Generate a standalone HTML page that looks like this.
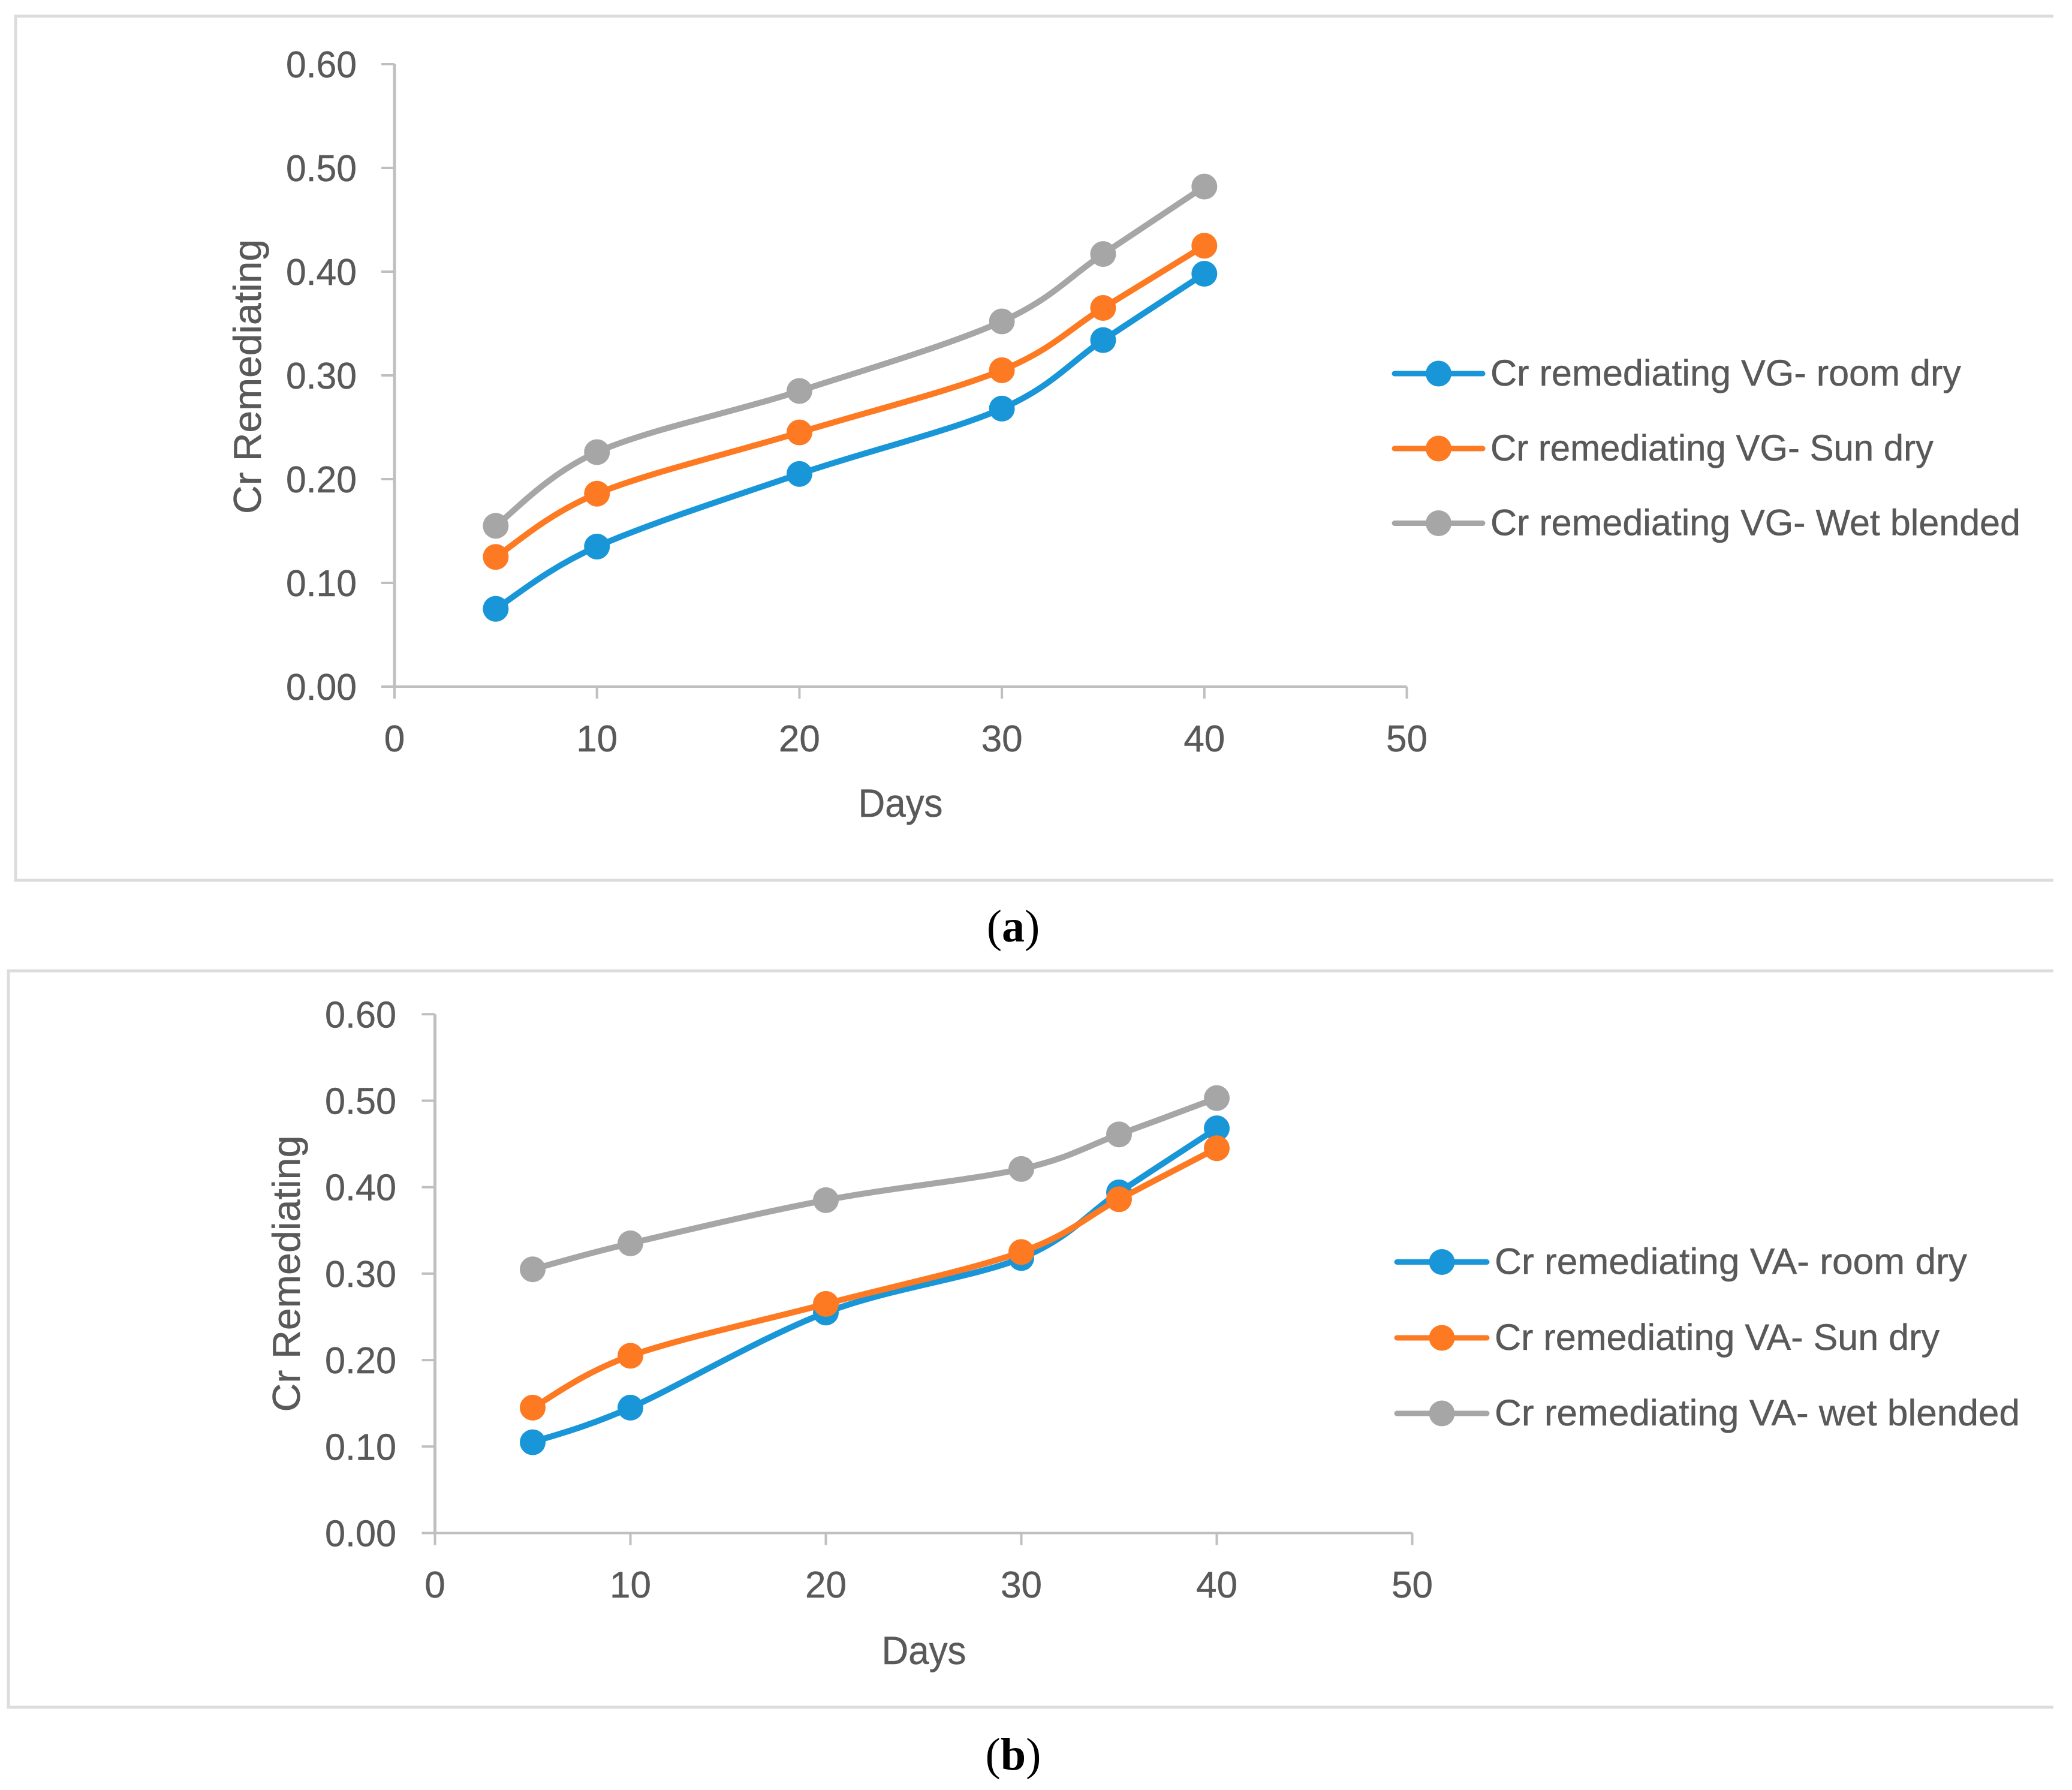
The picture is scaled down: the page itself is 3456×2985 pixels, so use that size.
<!DOCTYPE html>
<html lang="en">
<head>
<meta charset="utf-8">
<title>Cr Remediating charts</title>
<style>
html,body{margin:0;padding:0;background:#fff;width:3456px;height:2985px;overflow:hidden}
svg{display:block}
text{font-family:"Liberation Sans",sans-serif;fill:#595959;stroke:#595959;stroke-width:.5}
text.caption{font-family:"Liberation Serif",serif;fill:#000;stroke:none;font-size:76px}
</style>
</head>
<body>
<svg id="figure" xmlns="http://www.w3.org/2000/svg" width="3456" height="2985" viewBox="0 0 3456 2985">
  <polyline points="3425,27 26,27 26,1468 3425,1468" fill="none" stroke="#dcdcdc" stroke-width="5"/>
  <polyline points="3425,1619 14,1619 14,2847 3425,2847" fill="none" stroke="#dcdcdc" stroke-width="5"/>
  <text class="caption" x="1690" y="1570" text-anchor="middle">(<tspan font-weight="bold">a</tspan>)</text>
  <text class="caption" x="1690" y="2951" text-anchor="middle">(<tspan font-weight="bold">b</tspan>)</text>
</svg>
<script>
const days = [5, 10, 20, 30, 35, 40];
const xTickValues = [0, 10, 20, 30, 40, 50];
const yTickValues = [0, 0.1, 0.2, 0.3, 0.4, 0.5, 0.6];
const seriesColors = ['#1896d8', '#fd7a22', '#a6a6a6'];

const vgRoomDry = [0.075, 0.135, 0.205, 0.268, 0.334, 0.398];
const vgSunDry = [0.125, 0.186, 0.245, 0.305, 0.365, 0.425];
const vgWetBlended = [0.155, 0.226, 0.285, 0.352, 0.417, 0.482];
const vgNames = ['Cr remediating VG- room dry', 'Cr remediating VG- Sun dry', 'Cr remediating VG- Wet blended'];

const vaRoomDry = [0.105, 0.145, 0.255, 0.318, 0.394, 0.468];
const vaSunDry = [0.145, 0.205, 0.265, 0.325, 0.386, 0.445];
const vaWetBlended = [0.305, 0.335, 0.385, 0.421, 0.461, 0.503];
const vaNames = ['Cr remediating VA- room dry', 'Cr remediating VA- Sun dry', 'Cr remediating VA- wet blended'];

const NS = 'http://www.w3.org/2000/svg';
const root = document.getElementById('figure');

function mk(tag, attrs, parent, txt) {
  const el = document.createElementNS(NS, tag);
  for (const k in attrs) el.setAttribute(k, attrs[k]);
  if (txt !== undefined) el.textContent = txt;
  parent.appendChild(el);
  return el;
}

function smoothPath(pts) {
  let d = 'M' + pts[0][0] + ' ' + pts[0][1];
  for (let i = 0; i < pts.length - 1; i++) {
    const p0 = pts[Math.max(i - 1, 0)], p1 = pts[i], p2 = pts[i + 1], p3 = pts[Math.min(i + 2, pts.length - 1)];
    const c1x = p1[0] + (p2[0] - p0[0]) / 6, c1y = p1[1] + (p2[1] - p0[1]) / 6;
    const c2x = p2[0] - (p3[0] - p1[0]) / 6, c2y = p2[1] - (p3[1] - p1[1]) / 6;
    d += ' C' + c1x + ' ' + c1y + ' ' + c2x + ' ' + c2y + ' ' + p2[0] + ' ' + p2[1];
  }
  return d;
}

function drawChart(cfg) {
  const g = mk('g', {}, root);
  
  
  const sx = v => cfg.x0 + v * cfg.xPerDay;
  const sy = v => cfg.y0 - v * cfg.yPerUnit;
  const xEnd = sx(xTickValues[xTickValues.length - 1]);
  const yEnd = sy(yTickValues[yTickValues.length - 1]);

  const yAxis = mk('line', {x1: cfg.x0, x2: cfg.x0, y1: yEnd, y2: cfg.y0, stroke: '#bfbfbf', 'stroke-width': 5}, g);
  
  
  const xAxis = mk('line', {x1: cfg.x0 - 22, x2: xEnd, y1: cfg.y0, y2: cfg.y0, stroke: '#bfbfbf', 'stroke-width': 4}, g);
  
  

  yTickValues.forEach(v => {
    const y = sy(v);
    const t = mk('line', {x1: cfg.x0 - 22, x2: cfg.x0, y1: y, y2: y, stroke: '#bfbfbf', 'stroke-width': 4}, g);
    
    
    const l = mk('text', {x: cfg.yLabelRight, y: y + 22, 'text-anchor': 'end', 'font-size': 62, textLength: cfg.yLabelW, lengthAdjust: 'spacingAndGlyphs'}, g, v.toFixed(2));
    
    
  });
  xTickValues.forEach(v => {
    const x = sx(v);
    const t = mk('line', {x1: x, x2: x, y1: cfg.y0, y2: cfg.y0 + 20, stroke: '#bfbfbf', 'stroke-width': 4}, g);
    
    
    const l = mk('text', {x: x, y: cfg.xLabelBase, 'text-anchor': 'middle', 'font-size': 62}, g, String(v));
    
    
  });

  const xt = mk('text', {x: cfg.xTitleX, y: cfg.xTitleBase, 'text-anchor': 'middle', 'font-size': 66, textLength: 141, lengthAdjust: 'spacingAndGlyphs'}, g, 'Days');
  
  
  const yt = mk('text', {'text-anchor': 'middle', 'font-size': 65, textLength: cfg.yTitleLen, lengthAdjust: 'spacingAndGlyphs',
    transform: 'translate(' + cfg.yTitleX + ' ' + cfg.yTitleY + ') rotate(-90)'}, g, 'Cr Remediating');
  
  

  cfg.series.forEach((vals, i) => {
    const pts = vals.map((v, j) => [sx(days[j]), sy(v)]);
    const p = mk('path', {d: smoothPath(pts), fill: 'none', stroke: seriesColors[i], 'stroke-width': 10, 'stroke-linecap': 'round'}, g);
    
    
    pts.forEach(pt => {
      const c = mk('circle', {cx: pt[0], cy: pt[1], r: 21.5, fill: seriesColors[i]}, g);
      
      
    });
    const ly = cfg.legendY[i];
    const ll = mk('line', {x1: cfg.legendX1, x2: cfg.legendX2, y1: ly, y2: ly, stroke: seriesColors[i], 'stroke-width': 9, 'stroke-linecap': 'round'}, g);
    
    
    const lc = mk('circle', {cx: (cfg.legendX1 + cfg.legendX2) / 2, cy: ly, r: 21.5, fill: seriesColors[i]}, g);
    
    
    const lt = mk('text', {x: cfg.legendTextX, y: ly + 20, 'font-size': 61, textLength: cfg.legendW[i], lengthAdjust: 'spacingAndGlyphs'}, g, cfg.names[i]);
    
    
  });
}

drawChart({
  id: 'chart-a', x0: 658, y0: 1145, xPerDay: 33.77, yPerUnit: 1730,
  series: [vgRoomDry, vgSunDry, vgWetBlended], names: vgNames,
  yLabelRight: 595, yLabelW: 118, xLabelBase: 1253, xTitleX: 1502, xTitleBase: 1362,
  yTitleX: 435, yTitleY: 628, yTitleLen: 458,
  legendX1: 2326, legendX2: 2473, legendY: [623, 748, 872.5], legendTextX: 2486, legendW: [785, 739, 884]
});
drawChart({
  id: 'chart-b', x0: 725.5, y0: 2556.5, xPerDay: 32.6, yPerUnit: 1442,
  series: [vaRoomDry, vaSunDry, vaWetBlended], names: vaNames,
  yLabelRight: 661, yLabelW: 119, xLabelBase: 2664, xTitleX: 1541, xTitleBase: 2775,
  yTitleX: 500, yTitleY: 2124, yTitleLen: 461,
  legendX1: 2330, legendX2: 2480, legendY: [2104.5, 2231, 2357], legendTextX: 2493, legendW: [788, 742, 876]
});
</script>
</body>
</html>
